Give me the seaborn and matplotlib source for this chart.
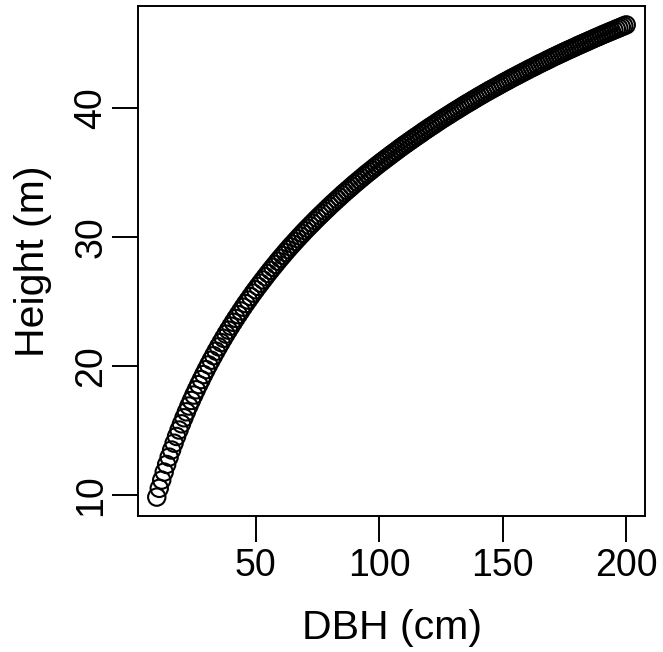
import matplotlib
matplotlib.use("Agg")
import matplotlib.pyplot as plt
import seaborn as sns
import pandas as pd

dbh_cm = [
    10, 11, 12, 13, 14, 15, 16, 17, 18, 19, 20, 21, 22, 23, 24, 25, 26, 27, 28, 29,
    30, 31, 32, 33, 34, 35, 36, 37, 38, 39, 40, 41, 42, 43, 44, 45, 46, 47, 48, 49,
    50, 51, 52, 53, 54, 55, 56, 57, 58, 59, 60, 61, 62, 63, 64, 65, 66, 67, 68, 69,
    70, 71, 72, 73, 74, 75, 76, 77, 78, 79, 80, 81, 82, 83, 84, 85, 86, 87, 88, 89,
    90, 91, 92, 93, 94, 95, 96, 97, 98, 99, 100, 101, 102, 103, 104, 105, 106, 107, 108, 109,
    110, 111, 112, 113, 114, 115, 116, 117, 118, 119, 120, 121, 122, 123, 124, 125, 126, 127, 128, 129,
    130, 131, 132, 133, 134, 135, 136, 137, 138, 139, 140, 141, 142, 143, 144, 145, 146, 147, 148, 149,
    150, 151, 152, 153, 154, 155, 156, 157, 158, 159, 160, 161, 162, 163, 164, 165, 166, 167, 168, 169,
    170, 171, 172, 173, 174, 175, 176, 177, 178, 179, 180, 181, 182, 183, 184, 185, 186, 187, 188, 189,
    190, 191, 192, 193, 194, 195, 196, 197, 198, 199, 200,
]

height_m = [
    9.82, 10.50, 11.14, 11.76, 12.35, 12.92, 13.47, 14.00, 14.52, 15.02,
    15.50, 15.97, 16.43, 16.88, 17.31, 17.73, 18.14, 18.54, 18.93, 19.32,
    19.70, 20.07, 20.43, 20.78, 21.13, 21.47, 21.80, 22.13, 22.45, 22.76,
    23.07, 23.37, 23.67, 23.96, 24.25, 24.54, 24.82, 25.09, 25.36, 25.63,
    25.89, 26.15, 26.40, 26.65, 26.90, 27.15, 27.39, 27.63, 27.86, 28.10,
    28.33, 28.55, 28.78, 29.00, 29.22, 29.43, 29.64, 29.85, 30.06, 30.26,
    30.47, 30.66, 30.86, 31.05, 31.25, 31.44, 31.63, 31.81, 32.00, 32.18,
    32.37, 32.55, 32.72, 32.90, 33.07, 33.25, 33.42, 33.59, 33.75, 33.92,
    34.09, 34.25, 34.41, 34.57, 34.73, 34.89, 35.04, 35.19, 35.35, 35.50,
    35.65, 35.80, 35.94, 36.09, 36.23, 36.38, 36.52, 36.66, 36.81, 36.95,
    37.09, 37.22, 37.36, 37.49, 37.63, 37.76, 37.89, 38.02, 38.16, 38.29,
    38.42, 38.55, 38.67, 38.80, 38.93, 39.06, 39.18, 39.30, 39.42, 39.54,
    39.67, 39.78, 39.90, 40.02, 40.14, 40.26, 40.37, 40.48, 40.60, 40.71,
    40.83, 40.94, 41.05, 41.16, 41.27, 41.38, 41.48, 41.59, 41.69, 41.80,
    41.91, 42.01, 42.11, 42.22, 42.32, 42.42, 42.52, 42.62, 42.72, 42.82,
    42.92, 43.02, 43.11, 43.21, 43.31, 43.41, 43.50, 43.59, 43.69, 43.78,
    43.88, 43.97, 44.06, 44.15, 44.24, 44.33, 44.42, 44.51, 44.59, 44.68,
    44.77, 44.86, 44.94, 45.03, 45.11, 45.20, 45.28, 45.37, 45.45, 45.53,
    45.62, 45.70, 45.78, 45.86, 45.94, 46.02, 46.10, 46.18, 46.26, 46.34,
    46.42,
]

x_ticks = [50, 100, 150, 200]
y_ticks = [10, 20, 30, 40]
x_label = "DBH (cm)"
y_label = "Height (m)"

df = pd.DataFrame({"dbh": dbh_cm, "height": height_m})

sns.set_style("ticks")
plt.rcParams["font.family"] = ["Liberation Sans", "DejaVu Sans"]

fig = plt.figure(figsize=(6.63, 6.52), dpi=100)
ax = fig.add_axes([138 / 663, 1 - 516 / 652, (645 - 138) / 663, (516 - 6) / 652])

sns.scatterplot(data=df, x="dbh", y="height", ax=ax, marker="o", s=12.5 ** 2,
                facecolor="none", edgecolor="black", linewidth=1.5, legend=False)

# R-style 4% padding
xr = max(dbh_cm) - min(dbh_cm)
yr = max(height_m) - min(height_m)
ax.set_xlim(min(dbh_cm) - 0.04 * xr, max(dbh_cm) + 0.04 * xr)
ax.set_ylim(min(height_m) - 0.04 * yr, max(height_m) + 0.04 * yr)

ax.set_xticks(x_ticks)
ax.set_yticks(y_ticks)
ax.set_xticklabels([str(t) for t in x_ticks])
ax.set_yticklabels([str(t) for t in y_ticks], rotation=90, va="center")

for side in ["left", "right", "top", "bottom"]:
    ax.spines[side].set_visible(True)
    ax.spines[side].set_linewidth(1.4)
    ax.spines[side].set_color("black")

ax.tick_params(axis="both", which="major", length=18.7, width=1.4, color="black",
               labelsize=27, labelcolor="black", direction="out")
ax.tick_params(axis="x", pad=4)
ax.tick_params(axis="y", pad=2)

ax.set_xlabel(x_label, fontsize=29.5, color="black")
ax.set_ylabel(y_label, fontsize=29.5, color="black")
ax.xaxis.set_label_coords(0.5, -(628 - 516) / 510)
ax.yaxis.set_label_coords(-(138 - 33) / 507, 0.5)
ax.xaxis.label.set_va("center")
ax.yaxis.label.set_va("center")

fig.savefig("out.png", dpi=100, facecolor="white")
